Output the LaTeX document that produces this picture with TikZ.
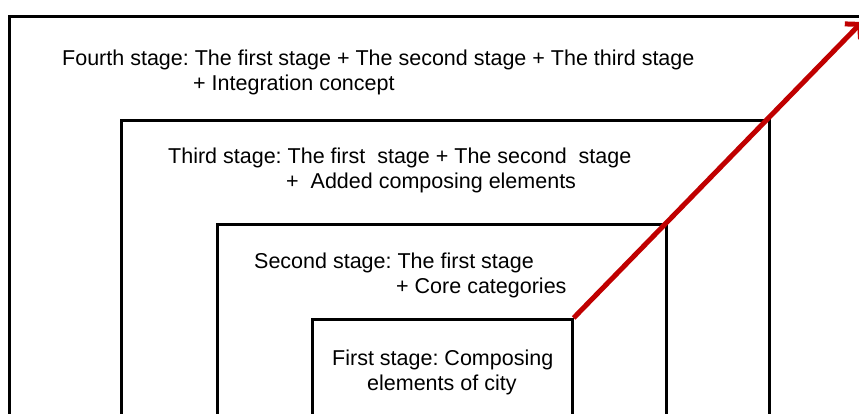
\documentclass[tikz,border=0pt]{standalone}
\usepackage{fontspec}
\setmainfont{Liberation Sans}
\usetikzlibrary{arrows.meta}
\definecolor{arrowred}{RGB}{192,0,0}
\frenchspacing
\tikzset{
  stagebox/.style={draw=black, line width=2.6pt, rectangle, anchor=north west, inner sep=0pt},
  stagetext/.style={anchor=base west, inner sep=0pt, font=\fontsize{21.5}{24}\selectfont},
  growarrow/.style={draw=arrowred, line width=5pt, -{Straight Barb[length=10pt,width=22pt]}}
}
\begin{document}
\begin{tikzpicture}[x=1pt,y=-1pt]
\useasboundingbox (0,0) rectangle (859,414);
\clip (0,0) rectangle (859,414);
\fill[white] (0,0) rectangle (859,414);
% boxes
\node[stagebox, minimum width=880pt, minimum height=430pt] (b4) at (8,15) {};
\node[stagebox, minimum width=648pt, minimum height=330pt] (b3) at (120,119) {};
\node[stagebox, minimum width=449pt, minimum height=230pt] (b2) at (216,223) {};
\node[stagebox, minimum width=260pt, minimum height=130pt] (b1) at (311,318) {};
% texts
\node[stagetext] (t4a) at (62,66) {Fourth stage: The first stage + The second stage + The third stage};
\node[stagetext] (t4b) at (193,91) {+ Integration concept};
\node[stagetext] (t3a) at (168,164) {Third stage: The first\ \ stage + The second\ \ stage};
\node[stagetext] (t3b) at (286,189) {+\ \ Added composing elements};
\node[stagetext] (t2a) at (254,268) {Second stage: The first stage};
\node[stagetext] (t2b) at (396,293) {+ Core categories};
\node[stagetext] (t1a) at (332,365) {First stage: Composing};
\node[stagetext] (t1b) at (367,390) {elements of city};
% arrow
\coordinate (tip) at (862,22);
\draw[growarrow] (b1.north east) -- (tip);
\end{tikzpicture}
\end{document}
